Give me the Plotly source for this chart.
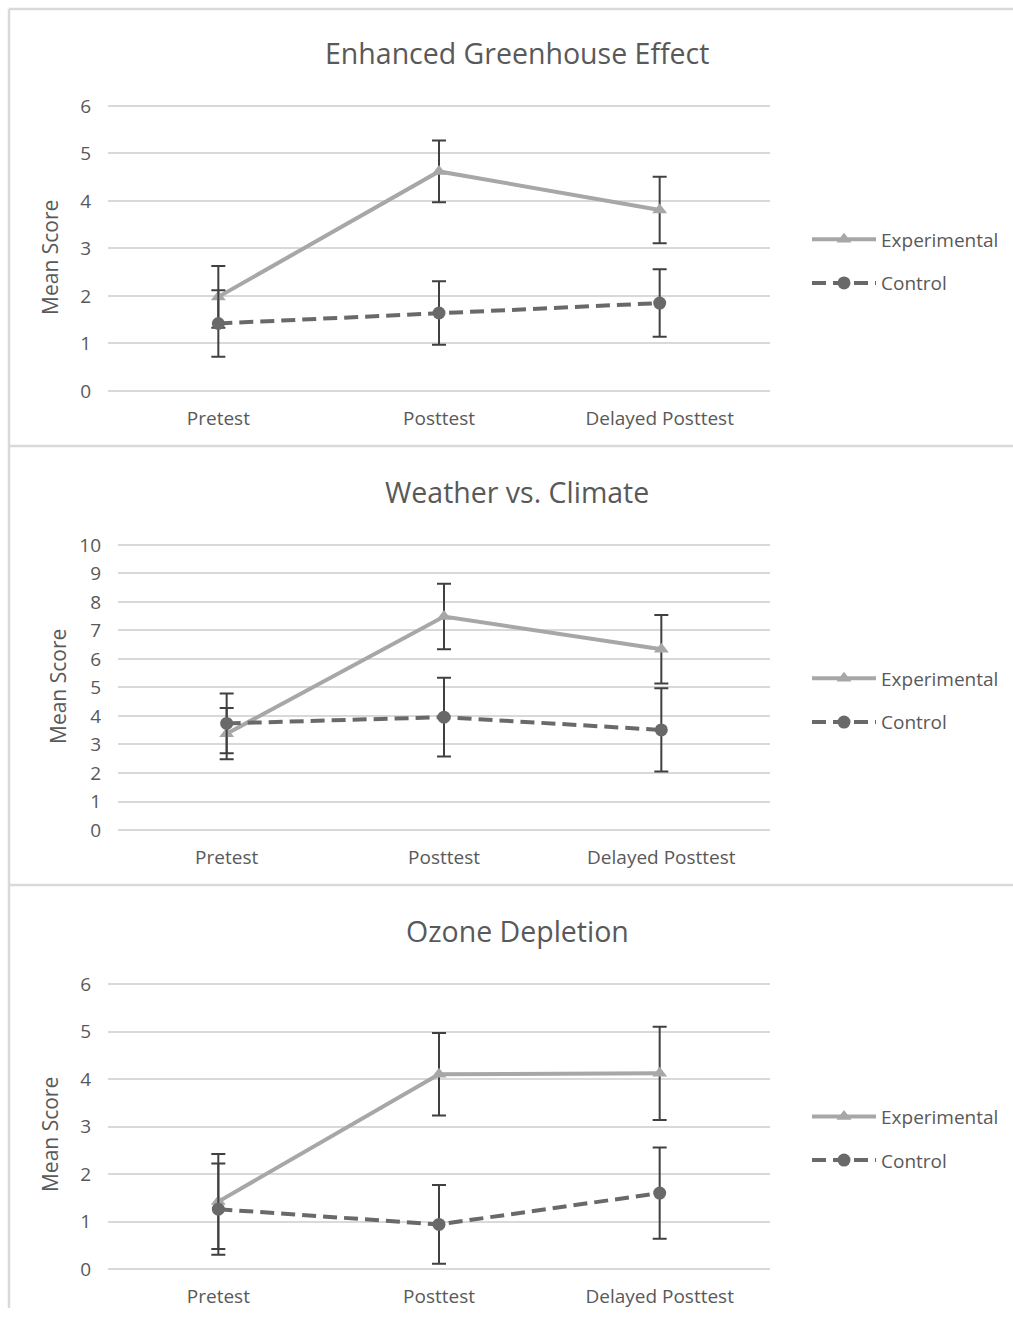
import plotly.graph_objects as go

W, H = 1013, 1319

categories = ["Pretest", "Posttest", "Delayed Posttest"]

titles = ["Enhanced Greenhouse Effect", "Weather vs. Climate", "Ozone Depletion"]

# Panel 1: Enhanced Greenhouse Effect
geh_exp = [1.98, 4.62, 3.81]
geh_exp_err = [0.65, 0.65, 0.70]
geh_ctl = [1.42, 1.64, 1.85]
geh_ctl_err = [0.70, 0.67, 0.71]

# Panel 2: Weather vs. Climate
wvc_exp = [3.38, 7.49, 6.34]
wvc_exp_err = [0.90, 1.15, 1.20]
wvc_ctl = [3.74, 3.96, 3.51]
wvc_ctl_err = [1.05, 1.38, 1.46]

# Panel 3: Ozone Depletion
ozo_exp = [1.42, 4.10, 4.12]
ozo_exp_err = [1.00, 0.87, 0.98]
ozo_ctl = [1.26, 0.94, 1.60]
ozo_ctl_err = [0.96, 0.83, 0.96]

y_max = [6, 10, 6]
y_dtick = [1, 1, 1]

panels = [
    (geh_exp, geh_exp_err, geh_ctl, geh_ctl_err),
    (wvc_exp, wvc_exp_err, wvc_ctl, wvc_ctl_err),
    (ozo_exp, ozo_exp_err, ozo_ctl, ozo_ctl_err),
]


# map a target pixel row to the figure's pixel row (compensates the
# vertical placement seen in the photographed page)
def py(y):
    return (y - 11.12) / 0.98317


# target pixel layout (top, bottom of plot area; left, right)
plot_px = [
    (106, 391, 108, 770),
    (545, 830, 118, 770),
    (984, 1269, 108, 770),
]
title_py = [53, 492, 931]
ytitle_px = [(50, 258), (58, 687), (50, 1135)]
legend_py = [220.5, 659.5, 1097.5]

FONT = "Open Sans"
TXT = "#595959"
EXP_C = "#A7A7A7"
CTL_C = "#696969"
ERR_C = "#404040"
GRID_C = "#D9D9D9"
PAD = 2  # px padding so edge gridlines get drawn

fig = go.Figure()
layout = dict(
    width=W, height=H, margin=dict(l=0, r=0, t=0, b=0),
    paper_bgcolor="white", plot_bgcolor="white",
    font=dict(family=FONT, color=TXT),
    showlegend=True,
)
annotations = []
shapes = []

for i, (ex, exe, ct, cte) in enumerate(panels):
    n = "" if i == 0 else str(i + 1)
    top, bot, left, right = plot_px[i]
    ftop, fbot = py(top), py(bot)
    upp = y_max[i] / (fbot - ftop)  # units per pixel
    xa = dict(
        domain=[left / W, right / W],
        anchor="y" + n,
        type="category",
        categoryorder="array",
        categoryarray=categories,
        range=[-0.5, 2.5],
        showgrid=False, zeroline=False, showline=False,
        ticks="", ticklabelstandoff=14 - PAD,
        tickfont=dict(family=FONT, size=19, color=TXT),
    )
    ya = dict(
        domain=[1 - (fbot + PAD) / H, 1 - (ftop - PAD) / H],
        anchor="x" + n,
        range=[-PAD * upp, y_max[i] + PAD * upp],
        dtick=y_dtick[i], tick0=0,
        showgrid=True, gridcolor=GRID_C, gridwidth=1.5,
        zeroline=False, showline=False,
        ticks="", ticklabelstandoff=16,
        tickfont=dict(family=FONT, size=19, color=TXT),
    )
    layout["xaxis" + n] = xa
    layout["yaxis" + n] = ya

    leg = "legend" + n
    fig.add_trace(go.Scatter(
        x=categories, y=ex, name="Experimental",
        xaxis="x" + n, yaxis="y" + n, legend=leg, legendgroup="e" + n,
        mode="lines+markers",
        line=dict(color=EXP_C, width=4),
        marker=dict(symbol="triangle-up", size=13, color=EXP_C),
        error_y=dict(type="data", array=exe, visible=True, color=ERR_C, thickness=2, width=7),
        cliponaxis=False,
    ))
    fig.add_trace(go.Scatter(
        x=categories, y=ct, name="Control",
        xaxis="x" + n, yaxis="y" + n, legend=leg, legendgroup="c" + n,
        mode="lines+markers",
        line=dict(color=CTL_C, width=4, dash="14px,7px"),
        marker=dict(symbol="circle", size=13, color=CTL_C),
        error_y=dict(type="data", array=cte, visible=True, color=ERR_C, thickness=2, width=7),
        cliponaxis=False,
    ))
    layout[leg] = dict(
        x=807 / W, y=1 - py(legend_py[i]) / H, xanchor="left", yanchor="top",
        font=dict(family=FONT, size=19, color=TXT),
        bgcolor="rgba(0,0,0,0)", tracegroupgap=16, traceorder="grouped",
        itemwidth=64,
    )
    annotations.append(dict(
        text=titles[i], x=517 / W, y=1 - py(title_py[i]) / H, xref="paper", yref="paper",
        xanchor="center", yanchor="middle", showarrow=False,
        font=dict(family=FONT, size=28.5, color=TXT),
    ))
    annotations.append(dict(
        text="Mean Score", x=ytitle_px[i][0] / W, y=1 - py(ytitle_px[i][1]) / H,
        xref="paper", yref="paper", xanchor="center", yanchor="middle",
        showarrow=False, textangle=-90,
        font=dict(family=FONT, size=21, color=TXT),
    ))

# panel frame lines
line_style = dict(color=GRID_C, width=2.5)
for yy in [9, 446, 885]:
    shapes.append(dict(type="line", xref="paper", yref="paper",
                       x0=9 / W, x1=1, y0=1 - py(yy) / H, y1=1 - py(yy) / H, line=line_style))
shapes.append(dict(type="line", xref="paper", yref="paper",
                   x0=9 / W, x1=9 / W, y0=0, y1=1 - py(9) / H, line=line_style))

layout["annotations"] = annotations
layout["shapes"] = shapes
fig.update_layout(**layout)
fig.write_html(
    "out.html",
    config={"displayModeBar": False},
    post_script="document.body.style.margin='0';document.body.style.overflow='hidden';"
                "document.documentElement.style.overflow='hidden';",
)
